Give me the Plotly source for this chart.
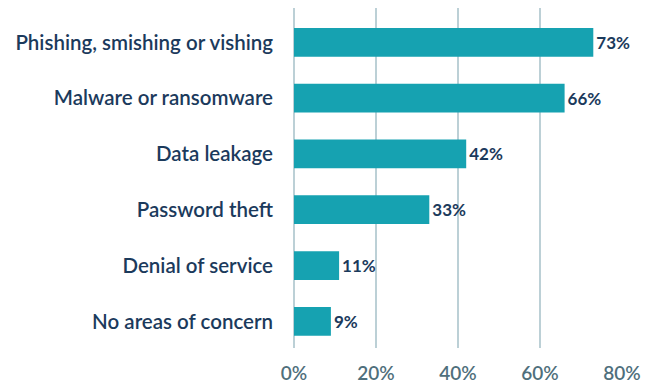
import plotly.graph_objects as go

categories = [
    "Phishing, smishing or vishing",
    "Malware or ransomware",
    "Data leakage",
    "Password theft",
    "Denial of service",
    "No areas of concern",
]
values = [73, 66, 42, 33, 11, 9]
x_ticks = [0, 20, 40, 60, 80]
x_tick_labels = ["0%", "20%", "40%", "60%", "80%"]

BAR = "#16a2b1"
NAVY = "#1b3a5c"
GRID = "#bcd0d6"
TICK = "#4f6f7c"

positions = list(range(len(categories)))

fig = go.Figure(
    go.Bar(
        x=values,
        y=positions,
        orientation="h",
        width=0.515,
        marker=dict(color=BAR, line=dict(width=0)),
        text=[f"{v}%" for v in values],
        textposition="outside",
        cliponaxis=False,
        textfont=dict(family="Lato", size=17, color=NAVY, weight="bold"),
        hoverinfo="skip",
    )
)

fig.update_layout(
    width=653,
    height=385,
    margin=dict(l=294, r=31, t=8, b=37),
    paper_bgcolor="white",
    plot_bgcolor="white",
    showlegend=False,
)

fig.update_xaxes(
    range=[0, 80],
    tickvals=x_ticks,
    ticktext=x_tick_labels,
    showgrid=True,
    gridcolor=GRID,
    gridwidth=1.5,
    zeroline=True,
    zerolinecolor=GRID,
    zerolinewidth=1.5,
    showline=False,
    ticks="",
    automargin=False,
    tickfont=dict(family="Lato", size=19, color=TICK, weight=600),
    ticklabelstandoff=12,
)

fig.update_yaxes(
    range=[5.478, -0.615],
    tickvals=positions,
    ticktext=categories,
    showgrid=False,
    zeroline=False,
    showline=False,
    ticks="",
    automargin=False,
    ticklabelstandoff=20,
    tickfont=dict(family="Lato", size=20.5, color=NAVY, weight=600),
)

fig.write_html("out.html")
